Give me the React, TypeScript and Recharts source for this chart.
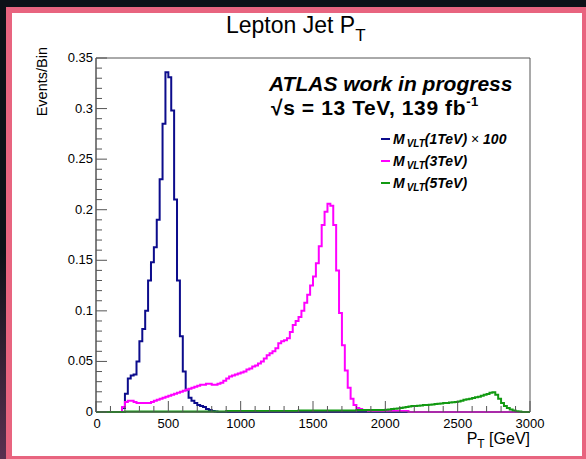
import React from 'react';
import { LineChart, Line, XAxis, YAxis, ReferenceArea } from 'recharts';

const FONT = '"Liberation Sans", Arial, Helvetica, sans-serif';

// histogram binning (GeV)
const BIN_WIDTH = 20;
const X_MAX = 3000;

// M_VLT(1TeV) x 100, bins starting at 180 GeV
const M1_START = 180;
const M1_VALUES = [
    0.004, 0.018, 0.033, 0.036, 0.037, 0.05, 0.07, 0.082, 0.1, 0.13,
    0.148, 0.163, 0.19, 0.23, 0.285, 0.336, 0.331, 0.298, 0.21, 0.13,
    0.075, 0.04, 0.022, 0.014, 0.011, 0.009, 0.007, 0.006, 0.005, 0.003,
    0.002, 0.001, 0.0005,
];

// M_VLT(3TeV), bins starting at 180 GeV
const M3_START = 180;
const M3_VALUES = [
    0.005, 0.01, 0.011, 0.011, 0.01, 0.009, 0.009, 0.009, 0.009, 0.009,
    0.01, 0.011, 0.012, 0.013, 0.014, 0.015, 0.016, 0.017, 0.018, 0.019,
    0.02, 0.021, 0.022, 0.023, 0.024, 0.025, 0.026, 0.027, 0.027, 0.028,
    0.028, 0.027, 0.027, 0.028, 0.029, 0.031, 0.033, 0.035, 0.036, 0.037,
    0.038, 0.039, 0.04, 0.042, 0.043, 0.045, 0.046, 0.048, 0.05, 0.053,
    0.056, 0.058, 0.06, 0.063, 0.068, 0.07, 0.071, 0.073, 0.079, 0.086,
    0.09, 0.094, 0.1, 0.108, 0.116, 0.125, 0.134, 0.147, 0.164, 0.185,
    0.198, 0.206, 0.204, 0.185, 0.14, 0.098, 0.066, 0.041, 0.024, 0.013,
    0.007, 0.004, 0.003, 0.002, 0.002, 0.001, 0.001, 0.001, 0.001, 0.001,
    0.001, 0.001, 0.001, 0.001, 0.001, 0.001, 0.001, 0.001, 0.001,
];

// M_VLT(5TeV), bins starting at 200 GeV
const M5_START = 200;
const M5_VALUES = [
    0.0005, 0.0005, 0.0005, 0.0005, 0.0005, 0.0005, 0.0005, 0.0005, 0.0005, 0.0005,
    0.0005, 0.0005, 0.0005, 0.0005, 0.0005, 0.0005, 0.0005, 0.0005, 0.0005, 0.0005,
    0.0005, 0.0005, 0.0005, 0.0005, 0.0005, 0.0005, 0.0005, 0.0005, 0.0005, 0.0005,
    0.0005, 0.0005, 0.0005, 0.0005, 0.0005, 0.001, 0.001, 0.001, 0.001, 0.001,
    0.001, 0.001, 0.001, 0.001, 0.001, 0.001, 0.001, 0.001, 0.001, 0.001,
    0.001, 0.001, 0.001, 0.001, 0.001, 0.001, 0.001, 0.001, 0.001, 0.001,
    0.0015, 0.0015, 0.0015, 0.0015, 0.0015, 0.0015, 0.0015, 0.0015, 0.0015, 0.0015,
    0.0015, 0.0015, 0.0015, 0.0015, 0.0015, 0.0015, 0.0015, 0.0015, 0.0015, 0.0015,
    0.002, 0.002, 0.002, 0.002, 0.002, 0.002, 0.002, 0.002, 0.002, 0.002,
    0.0022, 0.0025, 0.003, 0.0032, 0.0035, 0.004, 0.0045, 0.005, 0.0055, 0.006,
    0.006, 0.0063, 0.0065, 0.0068, 0.007, 0.0072, 0.0075, 0.008, 0.0082, 0.0085,
    0.0088, 0.009, 0.0093, 0.0096, 0.01, 0.0105, 0.011, 0.012, 0.0125, 0.013,
    0.0138, 0.0145, 0.015, 0.016, 0.017, 0.0178, 0.019, 0.0195, 0.017, 0.013,
    0.009, 0.006, 0.004, 0.0025, 0.0015, 0.0008, 0.0004,
];

const X_MAJOR = [0, 500, 1000, 1500, 2000, 2500, 3000];
const Y_MAJOR = [0, 0.05, 0.1, 0.15, 0.2, 0.25, 0.3, 0.35];

const X_TICKS: number[] = [];
for (let v = 0; v <= X_MAX; v += 100) X_TICKS.push(v);
const Y_TICKS: number[] = [];
for (let i = 0; i <= 35; i++) Y_TICKS.push(i / 100);

const COLORS = { m1: '#0c0c8c', m3: '#ff00ff', m5: '#129a12' };

const pick = (values: number[], start: number, edge: number) => {
    const i = Math.round((edge - start) / BIN_WIDTH);
    return i >= 0 && i < values.length ? values[i] : 0;
};

const rows: { x: number; m1: number; m3: number; m5: number }[] = [];
for (let edge = 0; edge <= X_MAX; edge += BIN_WIDTH) {
    rows.push({
        x: edge,
        m1: pick(M1_VALUES, M1_START, edge),
        m3: pick(M3_VALUES, M3_START, edge),
        m5: pick(M5_VALUES, M5_START, edge),
    });
}

const W = 586;
const H = 459;
const MARGIN = { top: 58, right: 56, bottom: 17, left: 56 };
const Y_AXIS_W = 40;
const X_AXIS_H = 30;
const PLOT_LEFT = MARGIN.left + Y_AXIS_W;
const PLOT_BOTTOM = H - MARGIN.bottom - X_AXIS_H;
const AXIS = '#555';

const XTick = (props: any) => {
    const { x, payload } = props;
    const v = payload.value;
    const major = X_MAJOR.includes(v);
    return (
        <g>
            <line x1={x} x2={x} y1={PLOT_BOTTOM} y2={PLOT_BOTTOM - (major ? 11 : 6)} stroke={AXIS} />
            {major && (
                <text x={x + (v === 0 ? 1 : 0)} y={PLOT_BOTTOM + 16} textAnchor="middle" fontSize={13} fontFamily={FONT} fill="#000">
                    {v}
                </text>
            )}
        </g>
    );
};

const YTick = (props: any) => {
    const { y, payload } = props;
    const v = payload.value;
    const major = Y_MAJOR.some((m) => Math.abs(m - v) < 1e-6);
    return (
        <g>
            <line x1={PLOT_LEFT} x2={PLOT_LEFT + (major ? 11 : 6)} y1={y} y2={y} stroke={AXIS} />
            {major && (
                <text x={PLOT_LEFT - 3} y={y + 4} textAnchor="end" fontSize={13} fontFamily={FONT} fill="#000">
                    {String(Math.round(v * 100) / 100)}
                </text>
            )}
        </g>
    );
};

const LEGEND = [
    { key: 'm1', label: '(1TeV)', extra: ' × 100' },
    { key: 'm3', label: '(3TeV)', extra: '' },
    { key: 'm5', label: '(5TeV)', extra: '' },
];

export default function App() {
    return (
        <div style={{ position: 'absolute', left: 0, top: 0, width: W, height: H, overflow: 'hidden',
            background: 'linear-gradient(to bottom, #0d1117 0%, #0d1117 55%, #5a3050 100%)' }}>
            {/* pink frame + white canvas */}
            <div style={{ position: 'absolute', left: 6, top: 7, right: 0, bottom: 0, background: '#e8647f' }} />
            <div style={{ position: 'absolute', left: 12, top: 13, width: 570, height: 443, background: '#fff' }} />

            <div style={{ position: 'absolute', left: 0, top: 0 }}>
                <LineChart width={W} height={H} data={rows} margin={MARGIN}>
                    <XAxis
                        dataKey="x"
                        type="number"
                        domain={[0, X_MAX]}
                        ticks={X_TICKS}
                        interval={0}
                        height={X_AXIS_H}
                        tick={XTick}
                        tickLine={false}
                        axisLine={{ stroke: AXIS }}
                    />
                    <YAxis
                        type="number"
                        domain={[0, 0.35]}
                        ticks={Y_TICKS}
                        interval={0}
                        width={Y_AXIS_W}
                        tick={YTick}
                        tickLine={false}
                        axisLine={{ stroke: AXIS }}
                    />
                    <ReferenceArea x1={0} x2={X_MAX} y1={0} y2={0.35} fill="none" stroke={AXIS} strokeWidth={1} />
                    <Line type="stepAfter" dataKey="m1" stroke={COLORS.m1} strokeWidth={2} dot={false} isAnimationActive={false} />
                    <Line type="stepAfter" dataKey="m3" stroke={COLORS.m3} strokeWidth={2} dot={false} isAnimationActive={false} />
                    <Line type="stepAfter" dataKey="m5" stroke={COLORS.m5} strokeWidth={2} dot={false} isAnimationActive={false} />
                </LineChart>
            </div>

            {/* titles, labels and legend */}
            <svg width={W} height={H} style={{ position: 'absolute', left: 0, top: 0, pointerEvents: 'none' }} fontFamily={FONT}>
                <text x={226} y={33} fontSize={23} fill="#000">
                    Lepton Jet P<tspan fontSize={17} dy={8}>T</tspan>
                </text>
                <text transform="translate(47,47) rotate(-90)" textAnchor="end" fontSize={14.5} fill="#000">
                    Events/Bin
                </text>
                <text x={530} y={444} textAnchor="end" fontSize={16} fill="#000">
                    P<tspan fontSize={12} dy={4}>T</tspan><tspan dy={-4}> [GeV]</tspan>
                </text>
                <text x={269} y={91} fontSize={21} fontWeight="bold" fontStyle="italic" fill="#000">
                    ATLAS work in progress
                </text>
                <text x={271} y={115} fontSize={21} fontWeight="bold" letterSpacing={0.6} fill="#000">
                    √s = 13 TeV, 139 fb<tspan fontSize={13} dy={-9}>-1</tspan>
                </text>
                {LEGEND.map((e, i) => {
                    const cy = 139 + i * 22;
                    return (
                        <g key={e.key}>
                            <line x1={381} x2={390} y1={cy} y2={cy} stroke={(COLORS as any)[e.key]} strokeWidth={2} />
                            <text x={393} y={cy + 5} fontSize={14} fontWeight="bold" fontStyle="italic" fill="#000">
                                M<tspan fontSize={10} dy={3} dx={2}>VLT</tspan>
                                <tspan dy={-3}>{e.label}</tspan>
                                {e.extra && <tspan fontWeight="normal" fontStyle="normal">{' ×'}</tspan>}
                                {e.extra && <tspan> 100</tspan>}
                            </text>
                        </g>
                    );
                })}
            </svg>
        </div>
    );
}
